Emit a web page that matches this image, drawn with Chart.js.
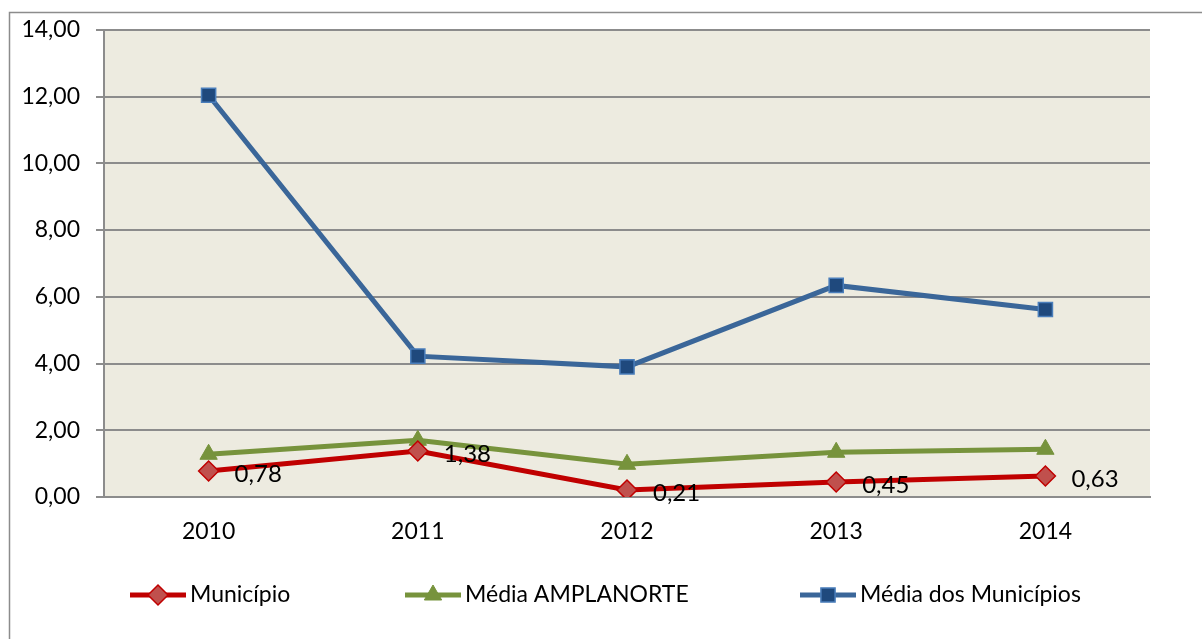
<!DOCTYPE html>
<html>
  <head>
    <meta charset="utf-8">
    <title>Município x Médias</title>
    <script src="https://cdn.jsdelivr.net/npm/chart.js"></script>
    <style>
      body {
        margin: 0;
        background: #fff;
        font-family: Lato, sans-serif;
      }
      .container {
        height: 639px;
        position: relative;
        width: 1202px;
      }
    </style>
  </head>
  <body>
    <div class="container">
      <canvas id="chart"></canvas>
    </div>

    <script>
      const years = ['2010', '2011', '2012', '2013', '2014'];
      const municipio = [0.78, 1.38, 0.21, 0.45, 0.63];
      const mediaAmplanorte = [1.28, 1.70, 0.98, 1.34, 1.43];
      const mediaMunicipios = [12.04, 4.22, 3.90, 6.34, 5.62];
      const yTicks = [0, 2, 4, 6, 8, 10, 12, 14];

      const fmt = v => v.toFixed(2).replace('.', ',');

      // Frame, plot background, data labels and legend
      const decor = {
        id: 'decor',
        beforeDraw(chart) {
          const { ctx, chartArea: a } = chart;
          ctx.save();
          ctx.fillStyle = '#EDEBE0';
          ctx.fillRect(a.left, a.top, a.right - a.left, a.bottom - a.top);
          ctx.strokeStyle = '#8C8C8C';
          ctx.lineWidth = 1.5;
          ctx.beginPath();
          ctx.moveTo(9.5, 700);
          ctx.lineTo(9.5, 12.5);
          ctx.lineTo(1300, 12.5);
          ctx.stroke();
          ctx.restore();
        },
        afterDatasetsDraw(chart) {
          const { ctx } = chart;
          const meta = chart.getDatasetMeta(0);
          ctx.save();
          ctx.fillStyle = '#000';
          ctx.font = '24px Lato';
          ctx.textAlign = 'left';
          ctx.textBaseline = 'middle';
          meta.data.forEach((pt, i) => {
            ctx.fillText(fmt(municipio[i]), pt.x + 26, pt.y + 3);
          });
          ctx.restore();
        },
        afterDraw(chart) {
          const { ctx } = chart;
          const items = [
            { x: 130, ds: chart.data.datasets[0] },
            { x: 405, ds: chart.data.datasets[1] },
            { x: 800, ds: chart.data.datasets[2] }
          ];
          const y = 595;
          ctx.save();
          items.forEach(it => {
            ctx.strokeStyle = it.ds.borderColor;
            ctx.lineWidth = 5;
            ctx.beginPath();
            ctx.moveTo(it.x, y);
            ctx.lineTo(it.x + 56, y);
            ctx.stroke();
            ctx.fillStyle = it.ds.pointBackgroundColor;
            ctx.strokeStyle = it.ds.pointBorderColor;
            ctx.lineWidth = it.ds.pointBorderWidth;
            Chart.helpers.drawPoint(ctx, {
              pointStyle: it.ds.pointStyle,
              radius: it.ds.pointRadius,
              borderWidth: it.ds.pointBorderWidth
            }, it.x + 28, y);
            ctx.fillStyle = '#000';
            ctx.font = '23px Lato';
            ctx.textBaseline = 'middle';
            ctx.fillText(it.ds.label, it.x + 60, y);
          });
          ctx.restore();
        }
      };

      const ctx = document.getElementById('chart').getContext('2d');
      const chart = new Chart(ctx, {
        type: 'line',
        data: {
          labels: years,
          datasets: [
            {
              label: 'Município',
              data: municipio,
              borderColor: '#C00000',
              borderWidth: 5,
              pointStyle: 'rectRot',
              pointRadius: 10,
              pointBackgroundColor: '#C0504D',
              pointBorderColor: '#C00000',
              pointBorderWidth: 1.5,
              tension: 0
            },
            {
              label: 'Média AMPLANORTE',
              data: mediaAmplanorte,
              borderColor: '#77933C',
              borderWidth: 5,
              pointStyle: 'triangle',
              pointRadius: 10,
              pointBackgroundColor: '#77933C',
              pointBorderColor: '#77933C',
              pointBorderWidth: 1,
              tension: 0
            },
            {
              label: 'Média dos Municípios',
              data: mediaMunicipios,
              borderColor: '#3A6699',
              borderWidth: 5,
              pointStyle: 'rect',
              pointRadius: 10,
              pointBackgroundColor: '#1F497D',
              pointBorderColor: '#4A7EBB',
              pointBorderWidth: 1.5,
              tension: 0
            }
          ]
        },
        options: {
          responsive: true,
          maintainAspectRatio: false,
          animation: false,
          layout: {
            padding: { top: 28, right: 52, bottom: 0, left: 0 }
          },
          scales: {
            x: {
              offset: true,
              grid: { display: false, drawTicks: false },
              border: { color: '#8C8C8C', width: 2 },
              ticks: {
                color: '#000',
                font: { family: 'Lato', size: 23 },
                padding: 21
              },
              afterFit(scale) {
                scale.height = 142;
              }
            },
            y: {
              min: 0,
              max: 14,
              afterBuildTicks(scale) {
                scale.ticks = yTicks.map(v => ({ value: v }));
              },
              grid: {
                color: '#8C8C8C',
                lineWidth: 2,
                tickLength: 8
              },
              border: { color: '#8C8C8C', width: 2 },
              ticks: {
                color: '#000',
                font: { family: 'Lato', size: 23 },
                padding: 16,
                callback: v => fmt(v)
              },
              afterFit(scale) {
                scale.width = 104;
              }
            }
          },
          plugins: {
            legend: { display: false },
            tooltip: { enabled: false }
          }
        },
        plugins: [decor]
      });
    </script>
  </body>
</html>
